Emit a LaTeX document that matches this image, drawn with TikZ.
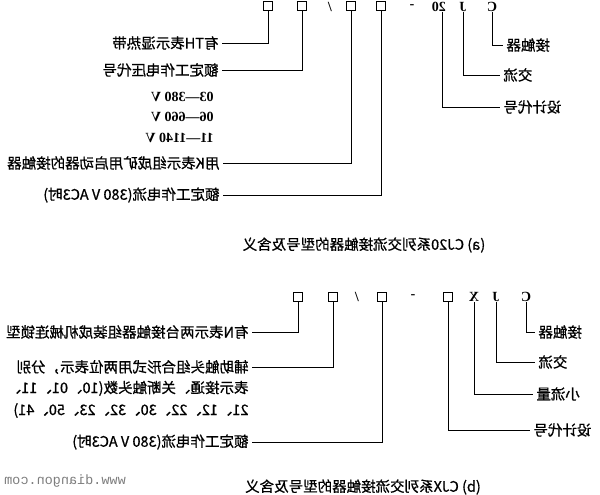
\documentclass[tikz,border=0pt]{standalone}
\usepackage{fontspec}
\usepackage{tikz}
\setmainfont{Liberation Serif}
\newfontfamily\cjk{Noto Sans CJK SC}[FakeBold=0.8]
\newfontfamily\wmfont{Liberation Mono}
\definecolor{markGray}{RGB}{125, 125, 125}

\begin{document}
\begin{tikzpicture}[x=1pt, y=-1pt, xscale=-1, transform shape, line width=0.9pt,
    codech/.style={font=\fontsize{14}{16}\selectfont\bfseries, inner sep=0pt},
    slot/.style={draw, line width=0.9pt, minimum size=8.5pt, inner sep=0pt},
    lbl/.style={font=\cjk\fontsize{14.5}{22}\selectfont, inner sep=3pt},
    volt/.style={font=\fontsize{14}{16}\selectfont\bfseries, anchor=west, inner sep=0pt}]
    \useasboundingbox (0,0) rectangle (600,495);

    % (a) model code
    \node[codech] (aC) at (108,6.5) {C};
    \node[codech] (aJ) at (137,6.5) {J};
    \node[codech] (a20) at (161,6.5) {20};
    \node[codech] (aDash) at (188,6.5) {-};
    \node[slot] (aCur) at (219,6) {};
    \node[slot] (aK) at (249,6) {};
    \node[codech] (aSlash) at (270,6.5) {/};
    \node[slot] (aVolt) at (298,6) {};
    \node[slot] (aTH) at (332,6) {};

    % (a) meanings
    \node[lbl, anchor=east] (aCl) at (97,45) {接触器};
    \node[lbl, anchor=east] (aJl) at (100,75) {交流};
    \node[lbl, anchor=east] (a20l) at (100,107) {设计代号};
    \node[lbl, anchor=west] (aTHl) at (378,43) {有TH表示湿热带};
    \node[lbl, anchor=west] (aVoltl) at (378,70) {额定工作电压代号};
    \node[volt] (v03) at (386,97) {03—380 V};
    \node[volt] (v06) at (386,117) {06—660 V};
    \node[volt] (v11) at (386,138) {11—1140 V};
    \node[lbl, anchor=west] (aKl) at (377,163) {用K表示组成矿用启动器的接触器};
    \node[lbl, anchor=west] (aCurl) at (377,195) {额定工作电流(380 V AC3时)};

    \draw (aC.south) |- (aCl.east);
    \draw (aJ.south) |- (aJl.east);
    \draw ([xshift=-3pt]a20.south) |- (a20l.east);
    \draw (aTH.south) |- (aTHl.west);
    \draw (aVolt.south) |- (aVoltl.west);
    \draw (aK.south) |- (aKl.west);
    \draw (aCur.south) |- (aCurl.west);

    \node[lbl] (capA) at (236,245) {(a) CJ20系列交流接触器的型号及含义};

    % (b) model code
    \node[codech] (bC) at (74,297) {C};
    \node[codech] (bJ) at (104,297) {J};
    \node[codech] (bX) at (126,297) {X};
    \node[slot] (bDes) at (152,297) {};
    \node[codech] (bDash) at (187,297) {-};
    \node[slot] (bCur) at (218,297) {};
    \node[codech] (bSlash) at (243,297) {/};
    \node[slot] (bAux) at (267,297) {};
    \node[slot] (bN) at (302,297) {};

    % (b) meanings
    \node[lbl, anchor=east] (bCl) at (65,332) {接触器};
    \node[lbl, anchor=east] (bJl) at (65,362) {交流};
    \node[lbl, anchor=east] (bXl) at (67,394) {小流量};
    \node[lbl, anchor=east] (bDesl) at (70,430) {设计代号};
    \node[lbl, anchor=west] (bNl) at (348,332) {有N表示两台接触器组装成机械连锁型};
    \node[lbl, anchor=west] (bAuxl) at (348,367) {辅助触头组合形式用两位表示，分别};
    \node[lbl, anchor=north west, align=left] (bAuxMore) at (bAuxl.south west) {表示接通、关断触头数(10、01、11、\\21、12、22、30、32、23、50、41)};
    \node[lbl, anchor=west] (bCurl) at (348,442) {额定工作电流(380 V AC3时)};

    \draw (bC.south) |- (bCl.east);
    \draw (bJ.south) |- (bJl.east);
    \draw (bX.south) |- (bXl.east);
    \draw (bDes.south) |- (bDesl.east);
    \draw (bN.south) |- (bNl.west);
    \draw (bAux.south) |- (bAuxl.west);
    \draw (bCur.south) |- (bCurl.west);

    \node[lbl] (capB) at (237,487) {(b) CJX系列交流接触器的型号及含义};

    \node[font=\wmfont\fontsize{13.5}{14}\selectfont, text=markGray, inner sep=0pt] (mark) at (535,481) {www.diangon.com};
\end{tikzpicture}
\end{document}
